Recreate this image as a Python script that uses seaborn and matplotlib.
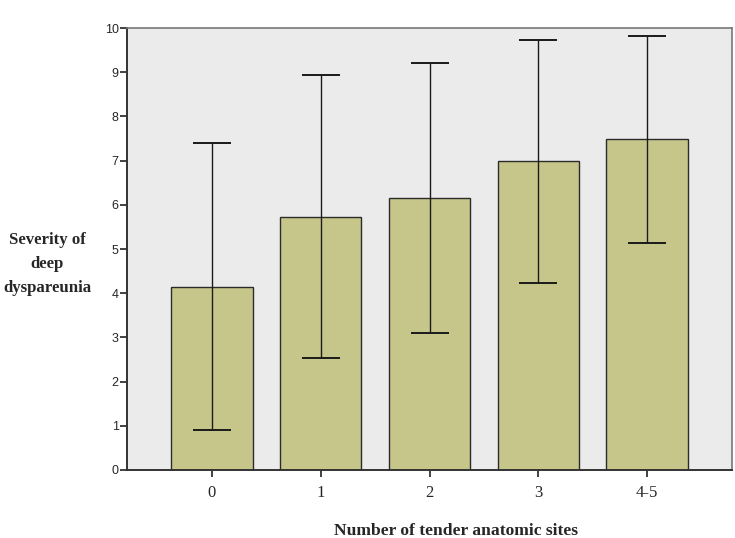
import matplotlib
matplotlib.use("Agg")
import matplotlib.pyplot as plt
import seaborn as sns
import pandas as pd
import numpy as np

categories = ["0", "1", "2", "3", "4-5"]
means = [4.15, 5.73, 6.16, 6.98, 7.48]
upper = [7.40, 8.94, 9.21, 9.73, 9.81]
lower = [0.90, 2.53, 3.11, 4.23, 5.14]
y_ticks = [0, 1, 2, 3, 4, 5, 6, 7, 8, 9, 10]

df = pd.DataFrame({"sites": categories, "severity": means})

sns.set_style("white")
fig = plt.figure(figsize=(7.35, 5.38), dpi=100)
ax = fig.add_axes([127/735, 1-470/538, (732-127)/735, (470-28)/538])
ax.set_facecolor("#EBEBEB")

sns.barplot(data=df, x="sites", y="severity", order=categories, ax=ax,
            color="#C6C68B", width=0.75, edgecolor="#2b2b2b", linewidth=1.0,
            saturation=1, errorbar=None)

xpos = np.arange(len(categories))
m = np.array(means)
err = [m - np.array(lower), np.array(upper) - m]
ax.errorbar(xpos, m, yerr=err, fmt="none", ecolor="#1a1a1a",
            elinewidth=1.0, capsize=14, capthick=1.4, zorder=5)

ax.set_xlim(-0.78, 4.78)
ax.set_ylim(0, 10)
ax.set_yticks(y_ticks)
ax.set_yticklabels([str(t) for t in y_ticks], fontfamily="Liberation Sans", fontsize=9)
ax.set_xticks(xpos)
ax.set_xticklabels(categories, fontfamily="Liberation Serif", fontsize=12)
ax.tick_params(axis="y", direction="out", length=5, width=1.3, color="#333333", pad=1, left=True)
ax.tick_params(axis="x", direction="out", length=5, width=1.3, color="#333333", pad=6, bottom=True)

for s in ["left", "bottom"]:
    ax.spines[s].set_color("#333333")
    ax.spines[s].set_linewidth(1.4)
for s in ["top", "right"]:
    ax.spines[s].set_color("#777777")
    ax.spines[s].set_linewidth(1.2)
    ax.spines[s].set_visible(True)

ax.set_xlabel("")
ax.set_ylabel("")
fig.text(456/735, 1-531/538, "Number of tender anatomic sites", ha="center", va="center",
         fontfamily="Liberation Serif", fontweight="bold", fontsize=12.6)
fig.text(47/735, 1-264/538, "Severity of\ndeep\ndyspareunia", ha="center", va="center",
         fontfamily="Liberation Serif", fontweight="bold", fontsize=12.1, linespacing=1.65)

fig.savefig("out.png", dpi=100)
